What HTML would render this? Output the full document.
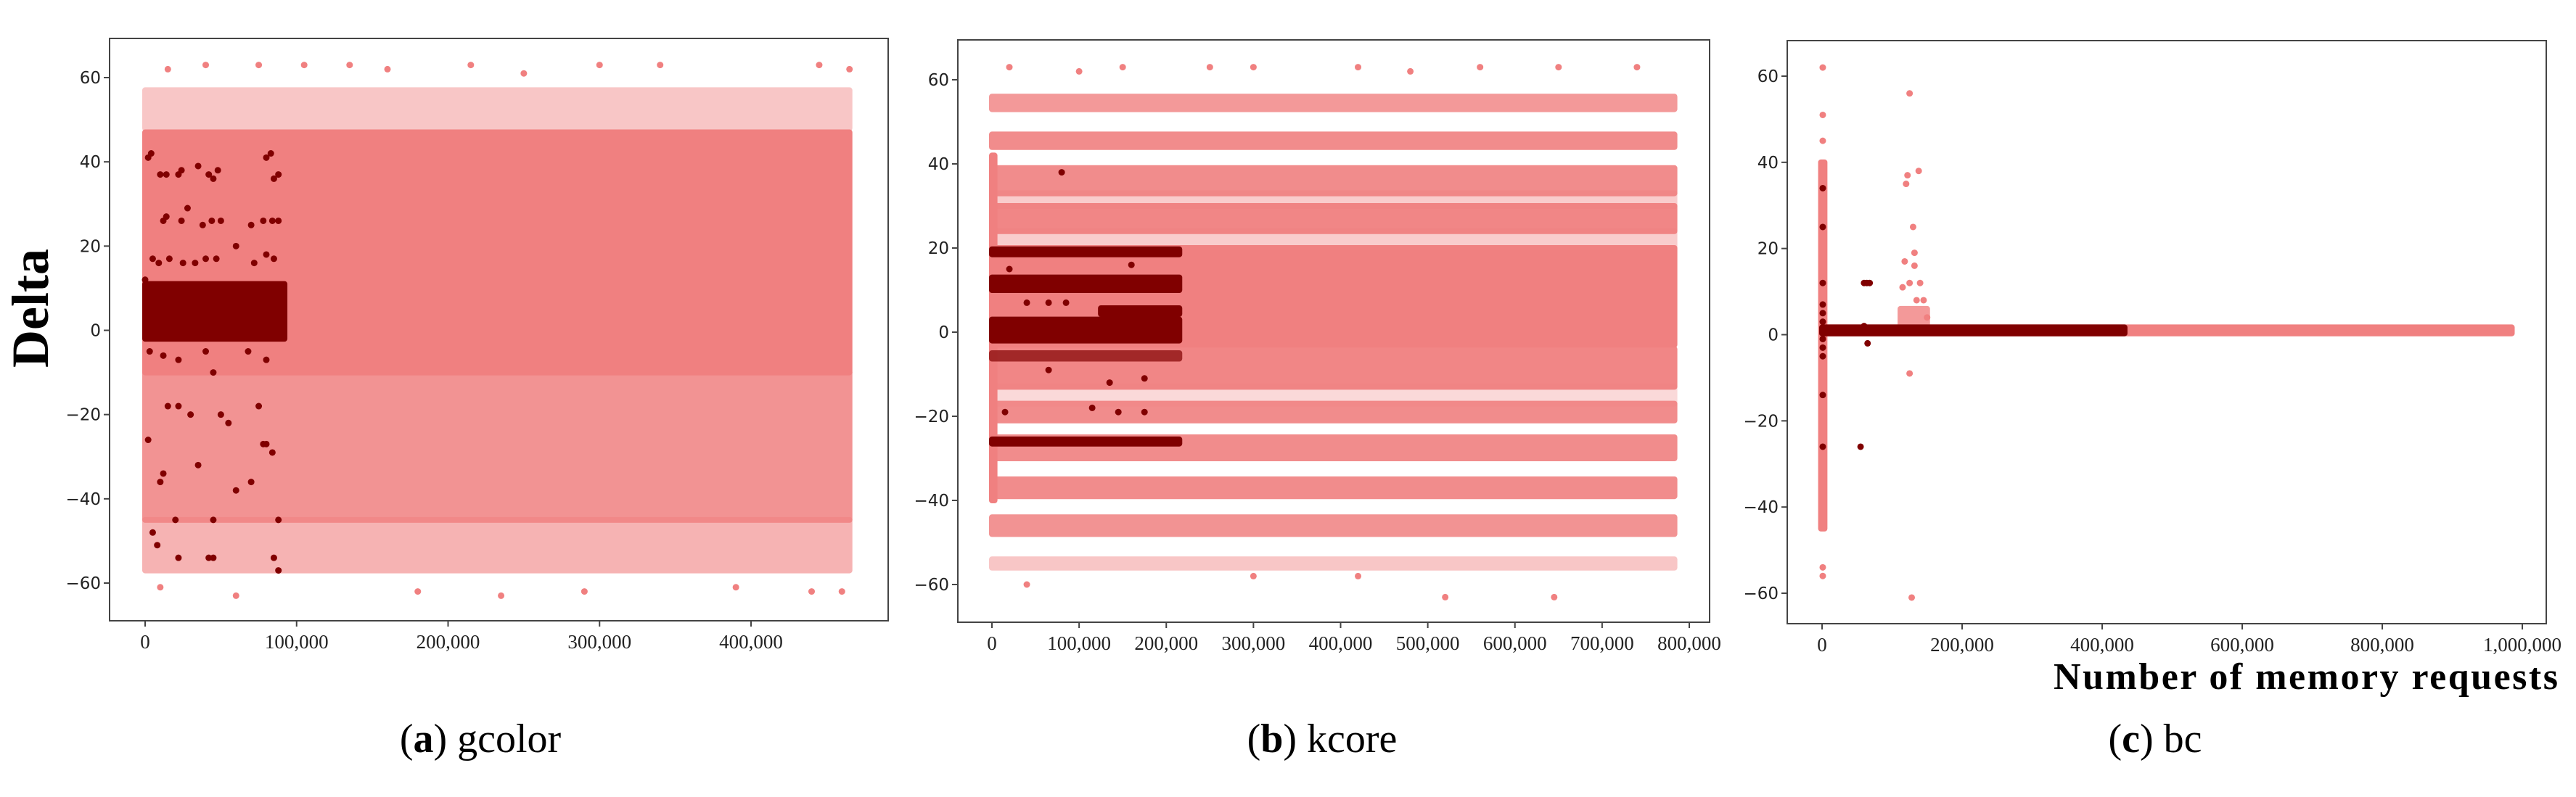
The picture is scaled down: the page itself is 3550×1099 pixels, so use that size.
<!DOCTYPE html>
<html><head><meta charset="utf-8"><style>
html,body{margin:0;padding:0;background:#fff;width:3550px;height:1099px;overflow:hidden}
svg{display:block}
.tk{font-family:"DejaVu Sans","Liberation Sans",sans-serif;font-size:23px;fill:#222}
.xt{font-family:"Liberation Serif",serif;font-size:27px;fill:#222}
.cap{font-family:"Liberation Serif",serif;font-size:56px;fill:#000}
</style></head><body>
<svg id="fig" width="3550" height="1099" xmlns="http://www.w3.org/2000/svg">
<text x="0" y="0" transform="translate(66,425) rotate(-90)" text-anchor="middle" font-family="Liberation Serif,serif" font-weight="bold" font-size="72">Delta</text>
<text x="3525" y="950" text-anchor="end" font-family="Liberation Serif,serif" font-weight="bold" font-size="52" textLength="695">Number of memory requests</text>
</svg>
<script>
const LIGHT="#f08080", DARK="#800000";
const yTicks=[-60,-40,-20,0,20,40,60];
const xTicksA=[0,100000,200000,300000,400000];
const xTicksB=[0,100000,200000,300000,400000,500000,600000,700000,800000];
const xTicksC=[0,200000,400000,600000,800000,1000000];
// bands: [x0,x1,y0,y1,opacity]
const lightBandsA=[[0,465000,-10,47,1],[0,465000,-45,-10,0.85],[0,465000,-57,-45,0.6],[0,465000,48,57,0.45]];
const darkBandsA=[[0,92000,-2,11,1]];
const lightPtsA=[[15000,62],[40000,63],[75000,63],[105000,63],[135000,63],[160000,62],[215000,63],[250000,61],[300000,63],[340000,63],[445000,63],[465000,62],[10000,-61],[60000,-63],[180000,-62],[235000,-63],[290000,-62],[390000,-61],[440000,-62],[460000,-62]];
const darkPtsA=[[2000,41],[4000,42],[10000,37],[14000,37],[22000,37],[24000,38],[35000,39],[42000,37],[45000,36],[48000,38],[80000,41],[83000,42],[85000,36],[88000,37],[12000,26],[14000,27],[24000,26],[28000,29],[38000,25],[44000,26],[50000,26],[70000,25],[78000,26],[84000,26],[88000,26],[5000,17],[9000,16],[16000,17],[25000,16],[33000,16],[40000,17],[47000,17],[60000,20],[72000,16],[80000,18],[85000,17],[0,12],[3000,-5],[12000,-6],[22000,-7],[40000,-5],[45000,-10],[68000,-5],[80000,-7],[15000,-18],[22000,-18],[30000,-20],[50000,-20],[55000,-22],[75000,-18],[78000,-27],[80000,-27],[84000,-29],[10000,-36],[35000,-32],[60000,-38],[70000,-36],[45000,-45],[5000,-48],[20000,-45],[8000,-51],[88000,-45],[85000,-54],[22000,-54],[42000,-54],[45000,-54],[88000,-57],[2000,-26],[12000,-34]];
const lightBandsB=[[0,783000,-3,20,1],[0,783000,24,30,0.95],[0,783000,33,39,0.9],[0,783000,44,47,0.9],[0,783000,53,56,0.8],[0,783000,20,24,0.4],[0,783000,30,33,0.4],[0,783000,-13,-4,0.95],[0,783000,-17,-13,0.3],[0,783000,-21,-17,0.9],[0,783000,-30,-25,0.9],[0,783000,-39,-35,0.9],[0,783000,-48,-44,0.85],[0,783000,-56,-54,0.45],[0,3000,-40,42,1]];
const darkBandsB=[[0,215000,-2,3,1],[0,215000,10,13,1],[0,215000,18.5,19.7,1],[0,215000,-26.5,-25.5,1],[125000,215000,4.3,5.7,1],[0,215000,-6.3,-5,0.7]];
const lightPtsB=[[20000,63],[100000,62],[150000,63],[250000,63],[300000,63],[420000,63],[480000,62],[560000,63],[650000,63],[740000,63],[520000,-63],[645000,-63],[40000,-60],[300000,-58],[420000,-58]];
const darkPtsB=[[80000,38],[160000,16],[20000,15],[40000,7],[65000,7],[85000,7],[65000,-9],[135000,-12],[175000,-11],[15000,-19],[115000,-18],[145000,-19],[175000,-19]];
const lightBandsC=[[0,985000,0.3,1.7,1],[-1500,3500,-45,40,1],[112000,150000,2,6,0.8]];
const darkBandsC=[[0,432000,0.3,1.7,1]];
const lightPtsC=[[1000,62],[1000,51],[1000,45],[1000,-54],[1000,-56],[125000,56],[122000,37],[138000,38],[120000,35],[130000,25],[132000,19],[118000,17],[132000,16],[125000,-9],[128000,-61],[115000,11],[125000,12],[140000,12],[145000,8],[135000,8],[150000,4]];
const darkPtsC=[[1000,34],[1000,25],[1000,12],[1000,7],[1000,5],[1000,3],[1000,-1],[1000,-3],[1000,-5],[1000,-14],[1000,-26],[60000,12],[64000,12],[68000,12],[55000,-26],[65000,-2],[60000,2]];

const NS="http://www.w3.org/2000/svg";
const svg=document.getElementById('fig');
function mk(tag,attrs,parent){const e=document.createElementNS(NS,tag);for(const k in attrs)e.setAttribute(k,attrs[k]);(parent||svg).appendChild(e);return e;}
function fmt(v){return v.toLocaleString('en-US');}
function panel(p){
  const g=mk('g',{});
  
  
  const xs=v=>p.x0px+v*(p.x1px-p.x0px)/p.xref;
  const ys=v=>p.y60+(60-v)*(p.yn60-p.y60)/120;
  const frame=mk('rect',{x:p.L,y:p.T,width:p.R-p.L,height:p.B-p.T,fill:'none',stroke:'#444','stroke-width':2},g);
  
  
  const r=4;
  function bands(arr,col,nm){arr.forEach(b=>{const x=xs(b[0])-r,w=xs(b[1])-xs(b[0])+2*r,y=ys(b[3])-r,h=ys(b[2])-ys(b[3])+2*r;
    const e=mk('rect',{x:x,y:y,width:w,height:h,fill:col,'fill-opacity':b[4],rx:r},g);
    
    });}
  function pts(arr,col,nm){arr.forEach(q=>{const e=mk('circle',{cx:xs(q[0]),cy:ys(q[1]),r:r+0.5,fill:col},g);
    
    });}
  bands(p.lb,LIGHT,'light-band');pts(p.lp,LIGHT,'light-point');
  bands(p.db,DARK,'dark-band');pts(p.dp,DARK,'dark-point');
  yTicks.forEach(t=>{const y=ys(t);mk('line',{x1:p.L-8,x2:p.L,y1:y,y2:y,stroke:'#444','stroke-width':2},g);
    const tx=mk('text',{x:p.L-12,y:y+8,'text-anchor':'end',class:'tk'},g);tx.textContent=(t<0?'\u2212'+(-t):t);
    
    });
  p.xt.forEach(t=>{const x=xs(t);mk('line',{x1:x,x2:x,y1:p.B,y2:p.B+8,stroke:'#444','stroke-width':2},g);
    const tx=mk('text',{x:x,y:p.B+38,'text-anchor':'middle',class:'xt'},g);tx.textContent=fmt(t);
    
    });
  const c=mk('text',{x:p.capX,y:1037,'text-anchor':'middle',class:'cap'},g);
  c.innerHTML='(<tspan font-weight="bold">'+p.letter+'</tspan>) '+p.label;
  
  
}
panel({name:'panel-gcolor',L:151,R:1224,T:53,B:856,x0px:200,x1px:1035,xref:400000,y60:107,yn60:804,xt:xTicksA,lb:lightBandsA,db:darkBandsA,lp:lightPtsA,dp:darkPtsA,capX:662,letter:'a',label:'gcolor'});
panel({name:'panel-kcore',L:1320,R:2356,T:55,B:858,x0px:1367,x1px:2328,xref:800000,y60:110,yn60:806,xt:xTicksB,lb:lightBandsB,db:darkBandsB,lp:lightPtsB,dp:darkPtsB,capX:1822,letter:'b',label:'kcore'});
panel({name:'panel-bc',L:2463,R:3509,T:56,B:860,x0px:2511,x1px:3476,xref:1000000,y60:105,yn60:818,xt:xTicksC,lb:lightBandsC,db:darkBandsC,lp:lightPtsC,dp:darkPtsC,capX:2970,letter:'c',label:'bc'});
</script>
</body></html>
